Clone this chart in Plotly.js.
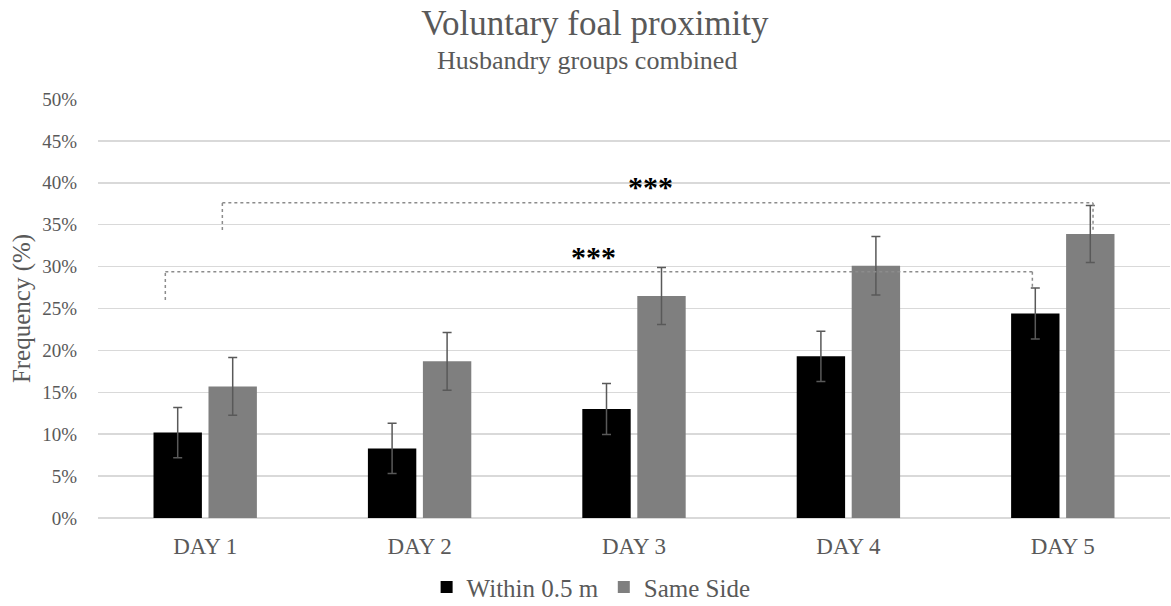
<!DOCTYPE html>
<html>
<head>
<meta charset="utf-8">
<script src="https://cdn.plot.ly/plotly-3.0.1.min.js"></script>
<style>html,body{margin:0;padding:0;background:#fff;}#chart{width:1171px;height:606px;}</style>
</head>
<body>
<div id="chart"></div>
<script>
const days = ['DAY 1', 'DAY 2', 'DAY 3', 'DAY 4', 'DAY 5'];
const withinValues = [0.102, 0.083, 0.130, 0.193, 0.244];
const withinErrors = [0.030, 0.030, 0.0305, 0.030, 0.0305];
const sameSideValues = [0.157, 0.187, 0.265, 0.301, 0.339];
const sameSideErrors = [0.0345, 0.0345, 0.034, 0.035, 0.034];
const seriesNames = ['Within 0.5 m', 'Same Side'];
const yTickValues = [0, 0.05, 0.10, 0.15, 0.20, 0.25, 0.30, 0.35, 0.40, 0.45, 0.50];
// significance brackets: [x start, x end, y level, y start foot, y end foot]
const bracketUpper = [0.080, 4.141, 0.3762, 0.3436, 0.3416];
const bracketLower = [-0.186, 3.858, 0.2939, 0.2602, 0.2741];
const starLabels = [{x: 2.078, y: 0.396, text: '***'}, {x: 1.809, y: 0.3126, text: '***'}];

const serif = '"Liberation Serif", "Times New Roman", serif';
const textColor = '#595959';

const traces = [
  {
    type: 'bar', name: seriesNames[0], x: days, y: withinValues,
    marker: {color: '#000000'},
    error_y: {type: 'data', array: withinErrors, visible: true, color: '#595959', thickness: 1.5, width: 4.5}
  },
  {
    type: 'bar', name: seriesNames[1], x: days, y: sameSideValues,
    marker: {color: '#7f7f7f'},
    error_y: {type: 'data', array: sameSideErrors, visible: true, color: '#595959', thickness: 1.5, width: 4.5}
  }
];

function bracketShapes(b) {
  const line = {color: '#8c8c8c', width: 1.5, dash: 'dot'};
  return [
    {type: 'line', xref: 'x', yref: 'y', x0: b[0], x1: b[0], y0: b[3], y1: b[2], line: line},
    {type: 'line', xref: 'x', yref: 'y', x0: b[0], x1: b[1], y0: b[2], y1: b[2], line: line},
    {type: 'line', xref: 'x', yref: 'y', x0: b[1], x1: b[1], y0: b[2], y1: b[4], line: line}
  ];
}

const annotations = starLabels.map(s => ({
  xref: 'x', yref: 'y', x: s.x, y: s.y, text: s.text, showarrow: false,
  xanchor: 'center', yanchor: 'middle',
  font: {family: serif, size: 30, color: '#000000', weight: 'bold'}
}));
annotations.push({
  xref: 'paper', yref: 'paper', x: 0.456, y: 1.0925, text: 'Husbandry groups combined',
  showarrow: false, xanchor: 'center', yanchor: 'middle',
  font: {family: serif, size: 26, color: textColor}
});

const layout = {
  width: 1171, height: 606,
  margin: {l: 98, r: 1, t: 99, b: 88, autoexpand: false},
  paper_bgcolor: '#ffffff', plot_bgcolor: '#ffffff',
  title: {
    text: 'Voluntary foal proximity',
    font: {family: serif, size: 35, color: textColor},
    x: 0.508, xanchor: 'center', xref: 'container',
    y: 0.962, yanchor: 'middle', yref: 'container'
  },
  barmode: 'group', bargap: 0.487, bargroupgap: 0.12,
  xaxis: {
    type: 'category', range: [-0.5, 4.5], showgrid: false, zeroline: false, showline: false,
    ticks: 'outside', ticklen: 7, tickcolor: 'rgba(0,0,0,0)',
    tickfont: {family: serif, size: 23, color: textColor}
  },
  yaxis: {
    range: [0, 0.5], tickvals: yTickValues, tickformat: '.0%',
    showgrid: true, gridcolor: '#d9d9d9', gridwidth: 1.5,
    zeroline: true, zerolinecolor: '#d9d9d9', zerolinewidth: 1.5, showline: false,
    ticks: 'outside', ticklen: 16, tickcolor: 'rgba(0,0,0,0)',
    tickfont: {family: serif, size: 19, color: textColor},
    title: {text: 'Frequency (%)', font: {family: serif, size: 25, color: textColor}, standoff: 4}
  },
  legend: {
    orientation: 'h', x: 0.46, xanchor: 'center', y: -0.165, yanchor: 'middle',
    font: {family: serif, size: 25, color: textColor}, itemwidth: 30, traceorder: 'normal'
  },
  showlegend: true,
  shapes: bracketShapes(bracketUpper).concat(bracketShapes(bracketLower)),
  annotations: annotations,
  hovermode: false
};

Plotly.newPlot('chart', traces, layout, {displayModeBar: false, staticPlot: true});
</script>
</body>
</html>
